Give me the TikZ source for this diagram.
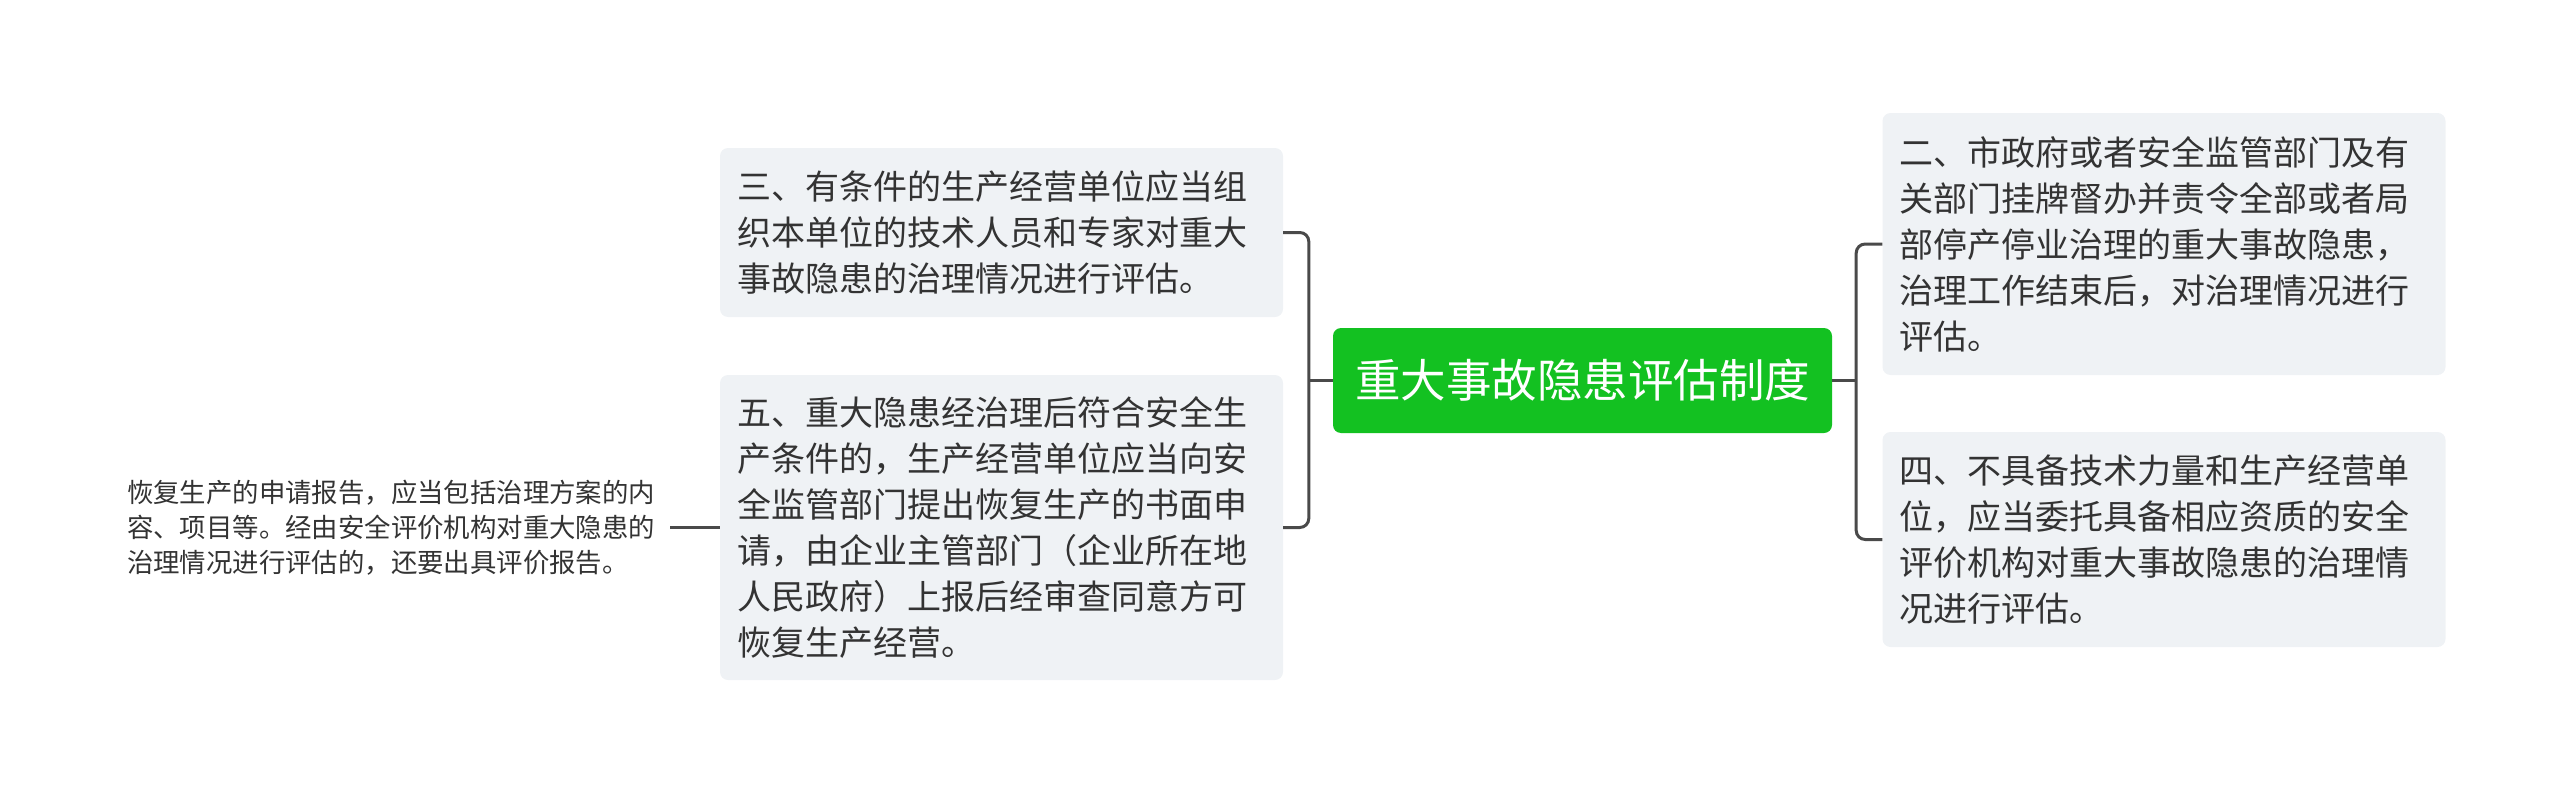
\documentclass[tikz,border=0pt]{standalone}
\usepackage{fontspec}
\setmainfont{Noto Sans CJK SC}
\usepackage{xcolor}
\usepackage{tikz}
\usetikzlibrary{calc}
\definecolor{txtgray}{HTML}{333333}
\definecolor{topicbg}{HTML}{EFF2F5}
\definecolor{rootgreen}{HTML}{13C121}
\definecolor{linkgray}{HTML}{4A4A4A}
\tikzstyle{central}=[shape=rectangle, rounded corners=8pt, fill=rootgreen, text=white, minimum width=499pt, minimum height=105pt, inner sep=0, font=\fontsize{45.5}{52}\selectfont]
\tikzstyle{topic}=[shape=rectangle, rounded corners=8pt, fill=topicbg, text=txtgray, align=left, text width=529pt, inner xsep=17pt, inner ysep=0, font=\fontsize{34}{46}\selectfont]
\tikzstyle{leaf}=[text=txtgray, align=left, text width=530pt, inner xsep=13pt, inner ysep=0, font=\fontsize{26.4}{35}\selectfont]
\tikzstyle{branch}=[draw=linkgray, line width=3pt, rounded corners=9pt]

\begin{document}
\begin{tikzpicture}[x=1pt,y=-1pt]
\useasboundingbox (0,0) rectangle (2560,795);
\node[central] (root) at (1582.5,380.5) {重大事故隐患评估制度};
% right side
\node[topic, minimum height=262pt] (r2) at (2164,244) {二、市政府或者安全监管部门及有\\关部门挂牌督办并责令全部或者局\\部停产停业治理的重大事故隐患，\\治理工作结束后，对治理情况进行\\评估。};
\node[topic, minimum height=215pt] (r4) at (2164,539.5) {四、不具备技术力量和生产经营单\\位，应当委托具备相应资质的安全\\评价机构对重大事故隐患的治理情\\况进行评估。};
% left side
\node[topic, minimum height=169pt] (l3) at (1001.5,232.5) {三、有条件的生产经营单位应当组\\织本单位的技术人员和专家对重大\\事故隐患的治理情况进行评估。};
\node[topic, minimum height=305pt] (l5) at (1001.5,527.5) {五、重大隐患经治理后符合安全生\\产条件的，生产经营单位应当向安\\全监管部门提出恢复生产的书面申\\请，由企业主管部门（企业所在地\\人民政府）上报后经审查同意方可\\恢复生产经营。};
\node[leaf] (l5a) at (392,527.5) {恢复生产的申请报告，应当包括治理方案的内\\容、项目等。经由安全评价机构对重大隐患的\\治理情况进行评估的，还要出具评价报告。};
% connectors
\coordinate (rj) at ($(root.east)+(24,0)$);
\coordinate (lj) at ($(root.west)+(-24,0)$);
\draw[branch] (root.east) -- (rj);
\draw[branch] (r2.west) -| (rj) |- (r4.west);
\draw[branch] (root.west) -- (lj);
\draw[branch] (l3.east) -| (lj) |- (l5.east);
\draw[branch] (l5a.east) -- (l5.west);
\end{tikzpicture}
\end{document}
